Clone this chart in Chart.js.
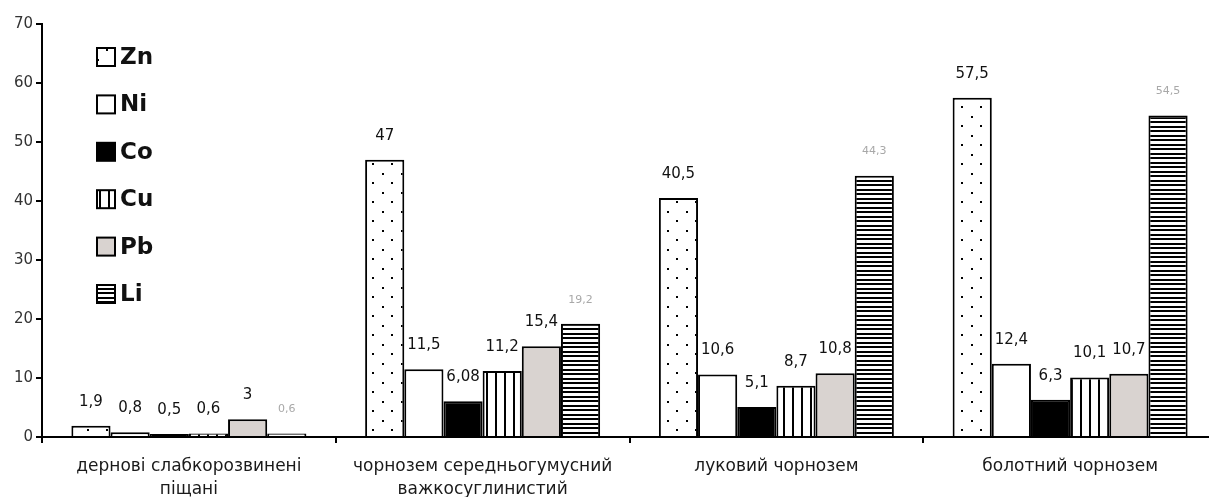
<!DOCTYPE html>
<html>
<head>
<meta charset="utf-8">
<script src="https://cdn.jsdelivr.net/npm/chart.js@4.4.1/dist/chart.umd.min.js"></script>
<style>
html,body{margin:0;padding:0;background:#fff;overflow:hidden;}
#wrap{width:1209px;height:497px;position:relative;overflow:hidden;}
</style>
</head>
<body>
<div id="wrap"><canvas id="c" width="1217" height="497"></canvas></div>
<script>
const categories = [
  ['дернові слабкорозвинені', 'піщані'],
  ['чорнозем середньогумусний', 'важкосуглинистий'],
  ['луковий чорнозем'],
  ['болотний чорнозем']
];
const seriesNames = ['Zn', 'Ni', 'Co', 'Cu', 'Pb', 'Li'];
const zn = [1.9, 47, 40.5, 57.5];
const ni = [0.8, 11.5, 10.6, 12.4];
const co = [0.5, 6.08, 5.1, 6.3];
const cu = [0.6, 11.2, 8.7, 10.1];
const pb = [3, 15.4, 10.8, 10.7];
const li = [0.6, 19.2, 44.3, 54.5];
const yTicks = [0, 10, 20, 30, 40, 50, 60, 70];

const FONT = '"DejaVu Sans", Verdana, sans-serif';

function tile(w, h, draw) {
  const c = document.createElement('canvas');
  c.width = w; c.height = h;
  const g = c.getContext('2d');
  g.fillStyle = '#fff'; g.fillRect(0, 0, w, h);
  g.fillStyle = '#000';
  draw(g);
  return document.createElement('canvas').getContext('2d').createPattern(c, 'repeat');
}
const dots = tile(19, 19, g => { g.fillRect(2, 2, 2, 2); g.fillRect(11, 11, 2, 2); });
const vstripes = tile(9, 4, g => { g.fillRect(0, 0, 2, 4); });
const hstripes = tile(4, 9, g => { g.fillRect(0, 0, 4, 2); g.fillRect(0, 4, 4, 2); });

const fills = [dots, '#ffffff', '#000000', vstripes, '#d9d3d0', hstripes];
const values = [zn, ni, co, cu, pb, li];

function fmt(v) { return String(v).replace('.', ','); }

const valueLabels = {
  id: 'valueLabels',
  afterDatasetsDraw(chart) {
    const ctx = chart.ctx;
    ctx.save();
    ctx.textAlign = 'center';
    ctx.textBaseline = 'middle';
    chart.data.datasets.forEach((ds, i) => {
      const meta = chart.getDatasetMeta(i);
      const isLi = i === 5;
      ctx.fillStyle = isLi ? '#a8a8a8' : '#111';
      ctx.font = isLi ? '11px ' + FONT : '15px ' + FONT;
      meta.data.forEach((bar, j) => {
        ctx.fillText(fmt(ds.data[j]), bar.x, bar.y - 24);
      });
    });
    ctx.restore();
  }
};

const insideLegend = {
  id: 'insideLegend',
  afterDraw(chart) {
    const ctx = chart.ctx;
    const a = chart.chartArea;
    ctx.save();
    ctx.font = 'bold 23px ' + FONT;
    ctx.textBaseline = 'middle';
    chart.data.datasets.forEach((ds, i) => {
      const x = a.left + 55;
      const y = a.top + 33 + i * 47.4;
      ctx.fillStyle = ds.backgroundColor;
      ctx.fillRect(x, y - 9, 18, 18);
      ctx.lineWidth = 2;
      ctx.strokeStyle = '#000';
      ctx.strokeRect(x, y - 9, 18, 18);
      ctx.fillStyle = '#111';
      ctx.fillText(ds.label, x + 23, y + 1);
    });
    ctx.restore();
  }
};

new Chart(document.getElementById('c'), {
  type: 'bar',
  data: {
    labels: categories,
    datasets: seriesNames.map((n, i) => ({
      label: n,
      data: values[i],
      backgroundColor: fills[i],
      borderColor: '#000',
      borderWidth: 2,
      categoryPercentage: 0.8,
      barPercentage: 1.0
    }))
  },
  options: {
    responsive: false,
    animation: false,
    devicePixelRatio: 1,
    layout: { padding: { top: 24, right: 0, left: 0, bottom: 0 } },
    plugins: { legend: { display: false }, tooltip: { enabled: false } },
    scales: {
      x: {
        grid: { display: true, drawOnChartArea: false, drawTicks: true, tickLength: 6, color: '#000', offset: true, lineWidth: 2 },
        border: { display: true, color: '#000', width: 2 },
        ticks: { color: '#1a1a1a', font: { size: 17, family: FONT, lineHeight: 1.3 }, padding: 13, maxRotation: 0, autoSkip: false },
        afterFit(s) { s.height = 60; }
      },
      y: {
        min: 0, max: 70,
        afterBuildTicks(s) { s.ticks = yTicks.map(v => ({ value: v })); },
        grid: { display: true, drawOnChartArea: false, drawTicks: true, tickLength: 6, color: '#000', lineWidth: 2 },
        border: { display: true, color: '#000', width: 2 },
        ticks: { color: '#333', font: { size: 15, family: FONT }, padding: 3 },
        afterFit(s) { s.width = 42; }
      }
    }
  },
  plugins: [valueLabels, insideLegend]
});
</script>
</body>
</html>
